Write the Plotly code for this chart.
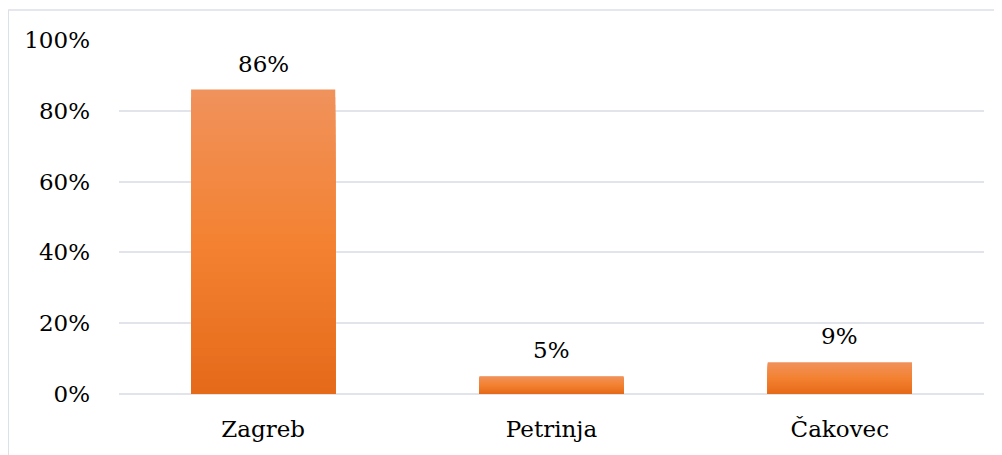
import plotly.graph_objects as go

# ---- data ----
categories = ["Zagreb", "Petrinja", "Čakovec"]
values = [0.86, 0.05, 0.09]
labels = ["86%", "5%", "9%"]
y_ticks = [0, 0.2, 0.4, 0.6, 0.8, 1.0]
y_tick_text = ["0%", "20%", "40%", "60%", "80%", "100%"]

FONT = "DejaVu Serif"
FS = 23
top_rgb = (240, 146, 92)
mid_rgb = (243, 130, 50)
bot_rgb = (229, 106, 25)


def grad(t):
    # t: 0 bottom -> 1 top
    if t >= 0.5:
        a, b, f = mid_rgb, top_rgb, (t - 0.5) / 0.5
    else:
        a, b, f = bot_rgb, mid_rgb, t / 0.5
    c = [round(a[i] + (b[i] - a[i]) * f) for i in range(3)]
    return f"rgb({c[0]},{c[1]},{c[2]})"


fig = go.Figure()
N = 40
for k in range(N):
    frac = (N - k) / N
    fig.add_trace(go.Bar(
        x=categories,
        y=[v * frac for v in values],
        marker=dict(color=grad((N - k - 0.5) / N), line=dict(width=0)),
        width=0.5,
        hoverinfo="skip",
        showlegend=False,
    ))

for c, v, t in zip(categories, values, labels):
    fig.add_annotation(x=c, y=v, text=t, showarrow=False, yanchor="bottom",
                       yshift=11, font=dict(family=FONT, size=FS, color="#000"))

fig.add_shape(type="rect", xref="paper", yref="paper",
              x0=-0.128, x1=1.2, y0=-0.5, y1=1.085,
              line=dict(color="#DDE0E6", width=1.5), fillcolor="rgba(0,0,0,0)", layer="below")

fig.update_layout(
    width=1002, height=455,
    barmode="overlay",
    bargap=0.5,
    paper_bgcolor="white", plot_bgcolor="white",
    margin=dict(l=111, r=26, t=32, b=69, autoexpand=False),
    font=dict(family=FONT, size=FS, color="#000"),
    xaxis=dict(showgrid=False, showline=False, zeroline=False, ticks="",
               ticklabelstandoff=19, tickfont=dict(family=FONT, size=FS, color="#000")),
    yaxis=dict(range=[0, 1.0], tickvals=y_ticks, ticktext=y_tick_text,
               showgrid=True, gridcolor="#E1E4EA", gridwidth=2,
               zeroline=True, zerolinecolor="#E1E4EA", zerolinewidth=2,
               showline=False, ticks="", ticklabelstandoff=28,
               tickfont=dict(family=FONT, size=FS, color="#000")),
)

fig.write_html("out.html")
